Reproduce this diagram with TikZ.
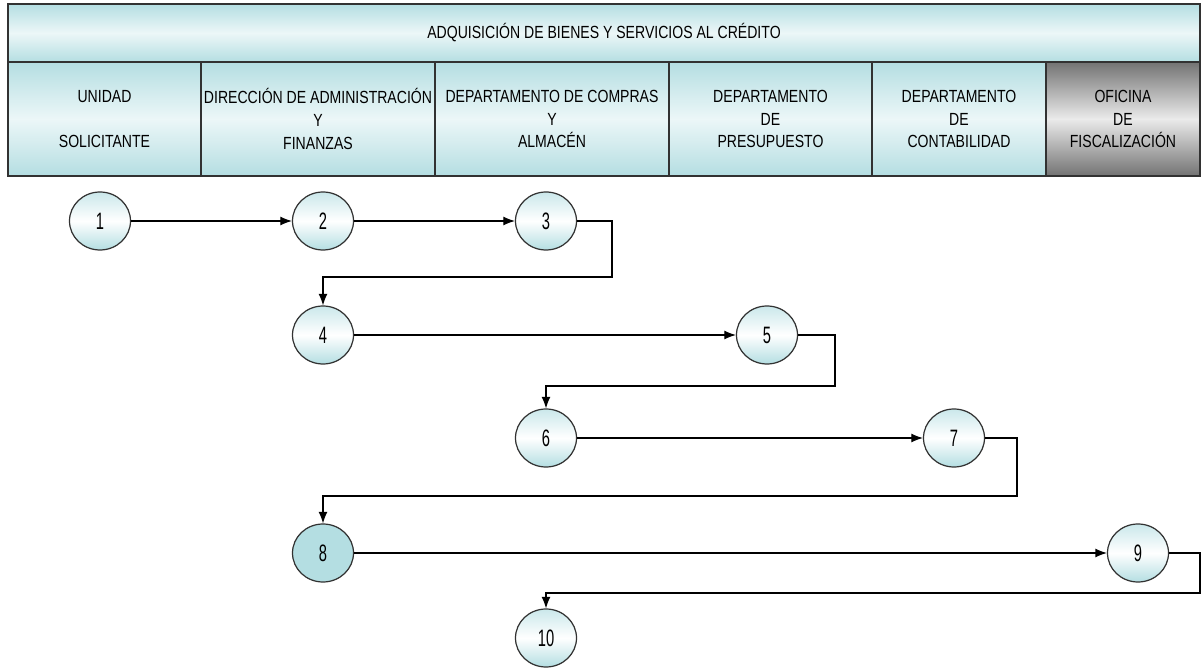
\documentclass[tikz,border=0pt]{standalone}
\usepackage{fontspec}
\setmainfont{Liberation Sans}[FakeStretch=0.8]
\newfontfamily\digitfont{Liberation Sans}[FakeStretch=0.62]
\usetikzlibrary{shapes.geometric, arrows.meta}

\definecolor{lane}{RGB}{180,222,226}
\definecolor{edge}{RGB}{50,50,50}
\definecolor{fiscal}{RGB}{115,115,115}

\tikzset{
  headcell/.style={draw=edge, line width=0.8pt, rectangle, inner sep=0pt,
    top color=lane, bottom color=lane, middle color=lane!25,
    font=\fontsize{10}{13}\selectfont, align=center},
  fiscalcell/.style={headcell, top color=fiscal, bottom color=fiscal, middle color=white!92!black},
  stepnode/.style={draw=edge, line width=0.7pt, ellipse, inner sep=0pt,
    minimum width=1.22cm, minimum height=1.16cm,
    top color=lane!70, bottom color=lane, middle color=white,
    font=\digitfont\fontsize{13.5}{14}\selectfont},
  flow/.style={->, >={Latex[length=6.5pt, width=5pt]}, line width=0.6pt}
}

\begin{document}
\begin{tikzpicture}
       \useasboundingbox (0, 0) rectangle (24.04, 13.36);

      % title
       \node[headcell, minimum width=23.84cm, minimum height=1.16cm] (title) at (12.08, 12.70)
         {ADQUISICIÓN DE BIENES Y SERVICIOS AL CRÉDITO};

      % columns
       \node[headcell, minimum width=3.86cm, minimum height=2.28cm] (unidad) at (2.09, 10.98)
         {UNIDAD\\[13pt]SOLICITANTE};
       \node[headcell, minimum width=4.68cm, minimum height=2.28cm] (direccion) at (6.36, 10.98)
         {DIRECCIÓN DE ADMINISTRACIÓN\\Y\\FINANZAS};
       \node[headcell, minimum width=4.68cm, minimum height=2.28cm] (compras) at (11.04, 10.98)
         {DEPARTAMENTO DE COMPRAS\\Y\\ALMACÉN};
       \node[headcell, minimum width=4.06cm, minimum height=2.28cm] (presupuesto) at (15.41, 10.98)
         {DEPARTAMENTO\\DE\\PRESUPUESTO};
       \node[headcell, minimum width=3.48cm, minimum height=2.28cm] (contabilidad) at (19.18, 10.98)
         {DEPARTAMENTO\\DE\\CONTABILIDAD};
       \node[fiscalcell, minimum width=3.08cm, minimum height=2.28cm] (fiscalizacion) at (22.46, 10.98)
         {OFICINA\\DE\\FISCALIZACIÓN};

      % steps
       \node[stepnode] (n1) at (2.00, 8.94) {1};
       \node[stepnode] (n2) at (6.46, 8.94) {2};
       \node[stepnode] (n3) at (10.92, 8.94) {3};
       \node[stepnode] (n4) at (6.46, 6.66) {4};
       \node[stepnode] (n5) at (15.34, 6.66) {5};
       \node[stepnode] (n6) at (10.92, 4.60) {6};
       \node[stepnode] (n7) at (19.08, 4.60) {7};
       \node[stepnode, top color=lane, bottom color=lane, middle color=lane] (n8) at (6.46, 2.30) {8};
       \node[stepnode] (n9) at (22.76, 2.30) {9};
       \node[stepnode] (n10) at (10.92, 0.60) {10};

      % turns
       \coordinate (r3) at (12.24, 7.82);
       \coordinate (r5) at (16.70, 5.64);
       \coordinate (r7) at (20.34, 3.44);
       \coordinate (r9) at (24.00, 1.50);

      % flow
       \draw[flow] (n1) -- (n2);
       \draw[flow] (n2) -- (n3);
       \draw[flow] (n3.east) -| (r3) -| (n4.north);
       \draw[flow] (n4) -- (n5);
       \draw[flow] (n5.east) -| (r5) -| (n6.north);
       \draw[flow] (n6) -- (n7);
       \draw[flow] (n7.east) -| (r7) -| (n8.north);
       \draw[flow] (n8) -- (n9);
       \draw[flow] (n9.east) -| (r9) -| (n10.north);
\end{tikzpicture}
\end{document}
